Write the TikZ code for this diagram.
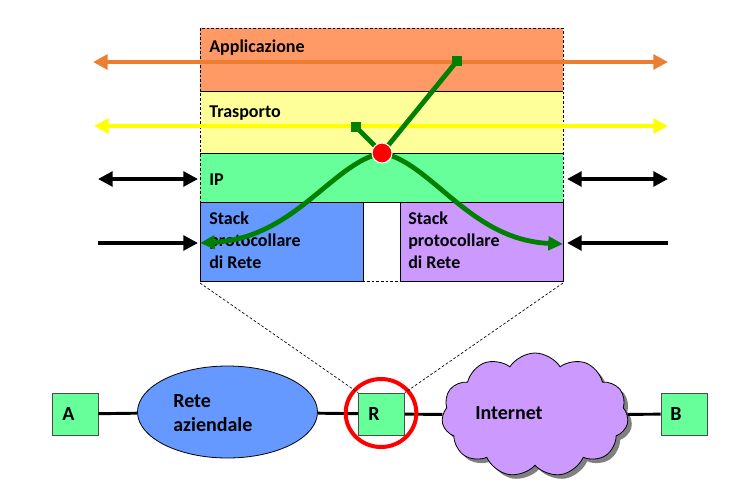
\documentclass[tikz,border=0pt]{standalone}
\usepackage{fontspec}
\setmainfont{Carlito}
\usetikzlibrary{arrows.meta,shapes.geometric,shapes.symbols,shadows}
\definecolor{appC}{HTML}{FF9966}
\definecolor{traC}{HTML}{FFFF99}
\definecolor{ipC}{HTML}{66FF99}
\definecolor{blueC}{HTML}{6699FF}
\definecolor{purpC}{HTML}{CC99FF}
\definecolor{orangeA}{HTML}{ED7D31}
\definecolor{yellowA}{HTML}{FFFF00}
\definecolor{greenP}{HTML}{008000}
\definecolor{redC}{HTML}{FF0000}
\tikzset{
  bandlbl/.style={anchor=west,inner sep=0pt,font=\fontsize{13.5}{16.5}\selectfont\bfseries,align=left},
  netlbl/.style={anchor=west,inner sep=0pt,font=\fontsize{15}{18}\selectfont\bfseries,align=left},
  hostbox/.style={draw=black!70,line width=0.6pt,fill=ipC,minimum width=34.5pt,minimum height=31.5pt,inner sep=0pt},
  bigarrow/.style={line width=3.6pt,-{Triangle[length=11pt,width=11pt]}},
  bigarrowboth/.style={line width=3.6pt,{Triangle[length=11pt,width=11pt]}-{Triangle[length=11pt,width=11pt]}},
  greenpath/.style={greenP,line width=3.6pt},
  link/.style={line width=2.2pt,black},
  dotline/.style={line width=0.5pt,dash pattern=on 2pt off 1.5pt},
}
\begin{document}
\begin{tikzpicture}[x=0.75pt,y=-0.75pt]
\useasboundingbox (0,0) rectangle (737,493);
% bands
\fill[appC] (200,28) rectangle (563,91);
\fill[traC] (200,91) rectangle (563,153);
\fill[ipC] (200,153) rectangle (563,202);
\draw[line width=0.6pt,fill=blueC] (200,202) rectangle (363,281);
\draw[line width=0.6pt,fill=purpC] (400,202) rectangle (563,281);
\draw[line width=0.6pt] (200,91) -- (563,91) (200,153) -- (563,153) (200,202) -- (563,202);
\draw[dotline] (200,28) rectangle (563,281);
\coordinate (sbl) at (200,283);
\coordinate (sbr) at (563,283);
% labels
\node[bandlbl] (lapp) at (209,48) {Applicazione};
\node[bandlbl] (ltra) at (209,113) {Trasporto};
\node[bandlbl] (lip) at (209,180) {IP};
\node[bandlbl,anchor=north west] (ls1) at (209,212) {Stack\\protocollare\\di Rete};
\node[bandlbl,anchor=north west] (ls2) at (408,212) {Stack\\protocollare\\di Rete};
% side arrows
\coordinate (oL) at (93,62); \coordinate (oR) at (668,62);
\coordinate (yL) at (94,126); \coordinate (yR) at (668,126);
\draw[bigarrowboth,orangeA] (oL) -- (oR);
\draw[bigarrowboth,yellowA,line width=3.2pt] (yL) -- (yR);
\coordinate (iL1) at (98,179); \coordinate (iL2) at (198,179);
\coordinate (iR1) at (567,179); \coordinate (iR2) at (668,179);
\draw[bigarrowboth] (iL1) -- (iL2);
\draw[bigarrowboth] (iR1) -- (iR2);
\coordinate (sL1) at (98,243); \coordinate (sL2) at (198,243);
\coordinate (sR1) at (668,243); \coordinate (sR2) at (567,243);
\draw[bigarrow] (sL1) -- (sL2);
\draw[bigarrow] (sR1) -- (sR2);
% green paths
\coordinate (hc) at (382,153);
\coordinate (qa) at (457,61);
\coordinate (qt) at (356,127);
\coordinate (gL) at (200,243);
\coordinate (gR) at (563,244);
\draw[greenpath] (hc) -- (qa);
\draw[greenpath] (hc) -- (qt);
\node[fill=greenP,minimum size=7.5pt,inner sep=0pt] (sqa) at (qa) {};
\node[fill=greenP,minimum size=7.5pt,inner sep=0pt] (sqt) at (qt) {};
\draw[greenpath,-{Triangle[length=11pt,width=10pt]}] (hc) .. controls (332,163) and (295,238) .. (gL);
\draw[greenpath,-{Triangle[length=11pt,width=10pt]}] (hc) .. controls (432,163) and (470,240) .. (gR);
\node[circle,fill=redC,draw=white,line width=0.8pt,minimum size=15pt,inner sep=0pt] (hub) at (hc) {};
% bottom network
\node[hostbox] (A) at (75,414) {};
\node[netlbl] at (62,414) {A};
\node[hostbox] (R) at (381.5,414) {};
\node[netlbl] at (368,414) {R};
\node[hostbox] (B) at (684,414) {};
\node[netlbl] at (670,414) {B};
\node[ellipse,draw=black,line width=0.6pt,fill=blueC,minimum width=135pt,minimum height=69pt,inner sep=0pt] (rete) at (227.5,412) {};
\node[netlbl] at (173,413) {Rete\\aziendale};
\node[cloud,cloud puffs=11,cloud puff arc=115,cloud ignores aspect,draw=black,line width=0.6pt,fill=purpC,minimum width=140pt,minimum height=93pt,inner sep=0pt,drop shadow={shadow xshift=3pt,shadow yshift=-3pt,fill=black!50,opacity=1}] (cloud) at (535,415) {};
\node[netlbl] at (475,413) {Internet};
\draw[link] (A) -- (rete);
\draw[link] (rete) -- (R);
\draw[link] (R) -- (cloud);
\draw[link] (cloud) -- (B);
\node[ellipse,draw=redC,line width=3pt,minimum width=53pt,minimum height=51pt,inner sep=0pt] (ring) at (381,413) {};
\draw[dotline] (sbl) -- (R.north west);
\draw[dotline] (sbr) -- (R.north east);
\end{tikzpicture}
\end{document}
